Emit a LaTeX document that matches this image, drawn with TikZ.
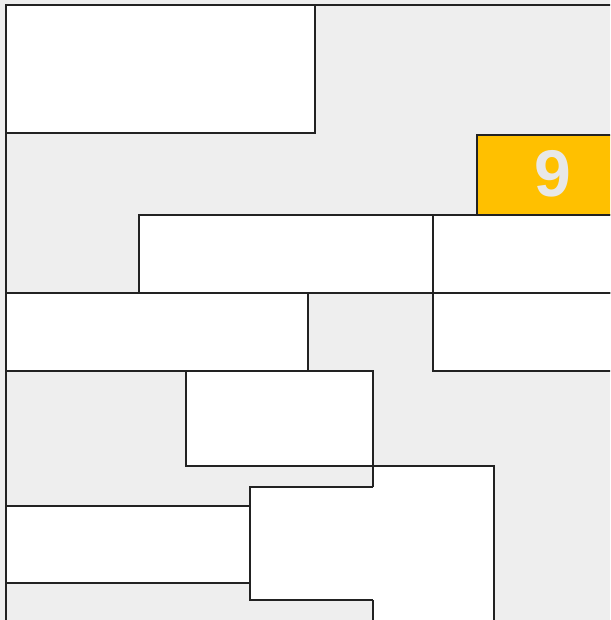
\documentclass[tikz,border=0pt]{standalone}
\usepackage{fontspec}
\setmainfont{Liberation Sans}
\definecolor{bggrey}{HTML}{EEEEEE}
\definecolor{edge}{HTML}{222222}
\definecolor{amber}{HTML}{FFC000}
\definecolor{digit}{HTML}{E8E8E8}
\begin{document}
\begin{tikzpicture}[x=1pt,y=-1pt,
  cell/.style={fill=white,draw=edge,line width=1.4pt},
  hot/.style={fill=amber,draw=edge,line width=1.4pt},
  edgeline/.style={draw=edge,line width=1.4pt}]
\useasboundingbox (0,0) rectangle (610,620);
\clip (0,0) rectangle (610,620);
\fill[bggrey] (0,0) rectangle (610,620);
% cells
\path[cell] (6,5) rectangle (315,133);
\path[hot] (477,135) rectangle (630,215);
\node[text=digit,inner sep=0pt,font=\bfseries\fontsize{66}{66}\selectfont] (nine) at (553,173.5) {9};
\path[cell] (139,215) rectangle (433,293);
\path[cell] (433,215) rectangle (630,293);
\path[cell] (433,293) rectangle (630,371);
\path[cell] (6,293) rectangle (308,371);
\path[cell] (186,371) rectangle (373,466);
% big cell G, left edge partly hidden
\fill[white] (373,466) rectangle (494,630);
\draw[edgeline] (373,487) -- (373,466) -- (494,466) -- (494,630);
\draw[edgeline] (373,600) -- (373,630);
% cell H
\fill[white] (250,487) rectangle (374,600);
\draw[edgeline] (373,487) -- (250,487) -- (250,600) -- (373,600);
% cell I
\path[cell] (6,506) rectangle (250,583);
% frame lines
\draw[edgeline] (6,5) -- (630,5);
\draw[edgeline] (6,5) -- (6,630);
\draw[edgeline] (6,293) -- (630,293);
\end{tikzpicture}
\end{document}
